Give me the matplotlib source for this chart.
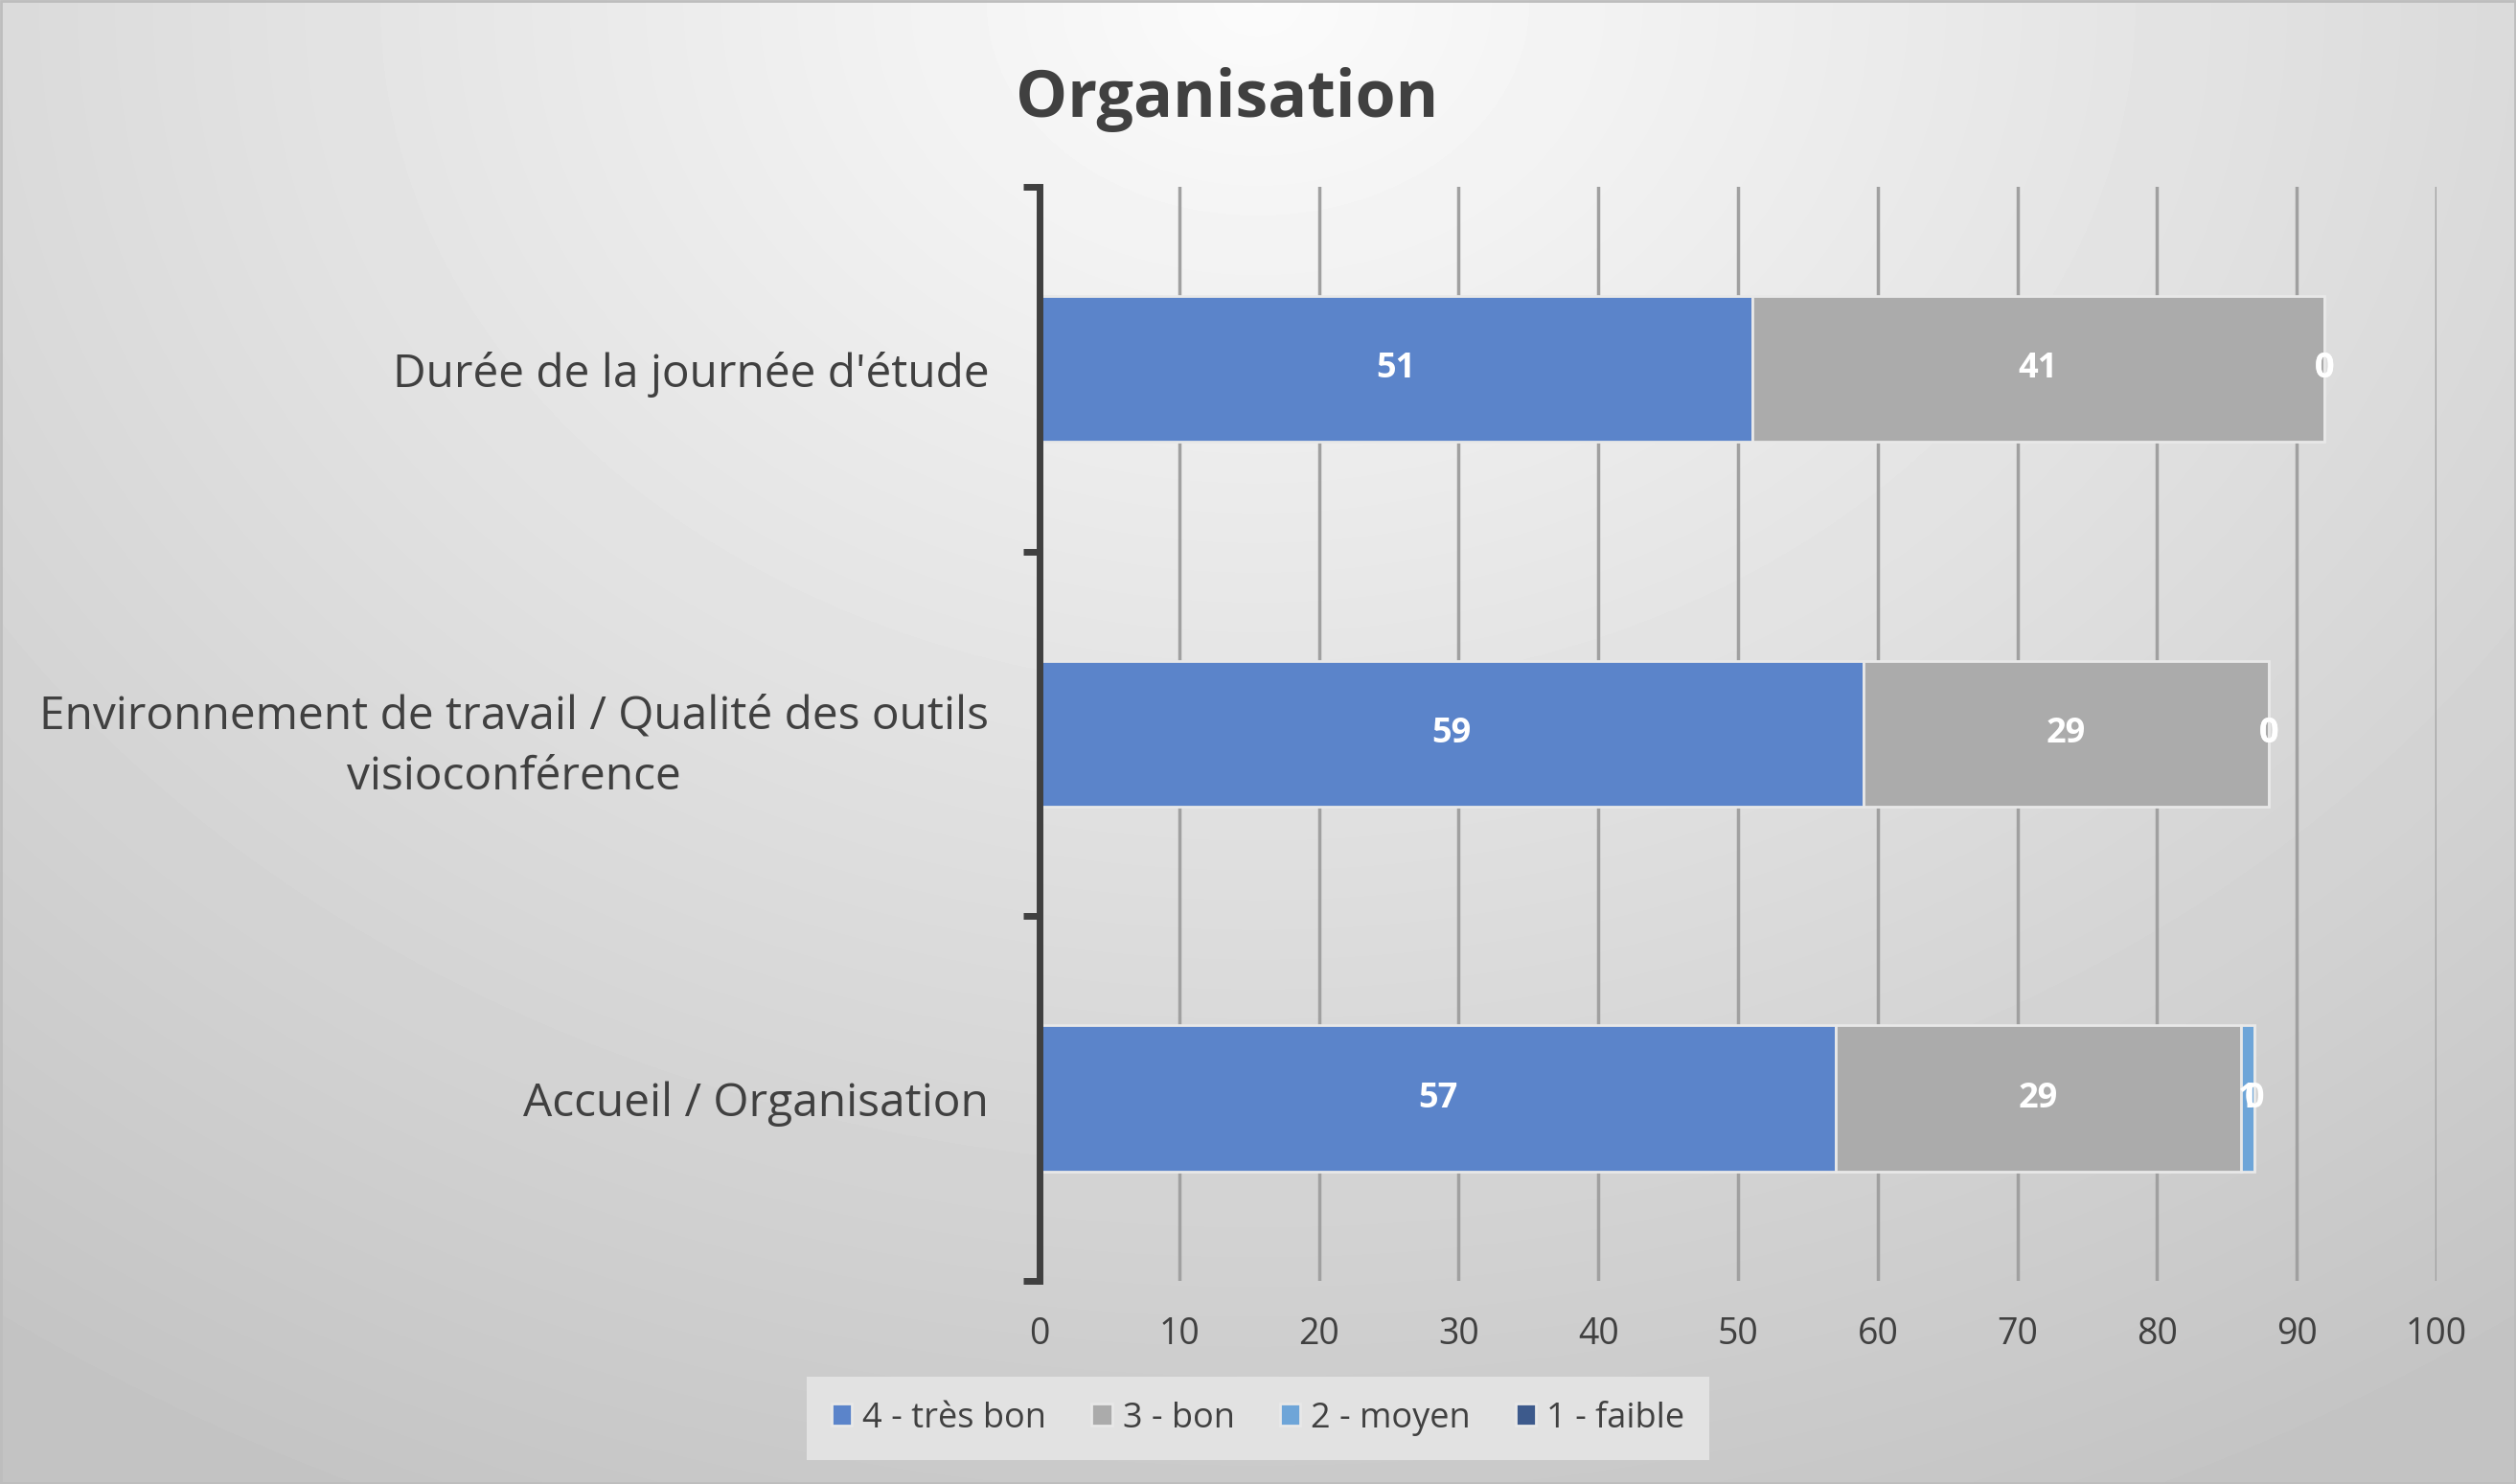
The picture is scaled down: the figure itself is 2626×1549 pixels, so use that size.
import matplotlib.pyplot as plt
import numpy as np

categories = ["Durée de la journée d'étude",
              "Environnement de travail / Qualité des outils\nvisioconférence",
              "Accueil / Organisation"]
series = ['4 - très bon', '3 - bon', '2 - moyen', '1 - faible']
values = {
    '4 - très bon': [51, 59, 57],
    '3 - bon': [41, 29, 29],
    '2 - moyen': [0, 0, 1],
    '1 - faible': [0, 0, 0],
}
colors = ['#5b84ca', '#ababab', '#6ea5d8', '#3d5a8c']

plt.rcParams['font.family'] = ['Open Sans', 'DejaVu Sans']

fig = plt.figure(figsize=(26.26, 15.49), dpi=100)

# radial grey background like the Excel chart area
bg = fig.add_axes([0, 0, 1, 1], zorder=-10)
yy, xx = np.mgrid[0:1:300j, 0:1:500j]
r = np.sqrt(((xx - 0.5) * 1.0) ** 2 + (yy * 0.75) ** 2)
shade = 0.985 - 0.22 * np.clip(r / 0.85, 0, 1)
bg.imshow(shade, cmap='gray', vmin=0, vmax=1, aspect='auto',
          extent=[0, 1, 1, 0], interpolation='bilinear')
bg.set_xlim(0, 1)
bg.set_ylim(1, 0)
bg.axis('off')
bg.add_patch(plt.Rectangle((0.0005, 0.0005), 0.999, 0.999, fill=False,
                           edgecolor='#bdbdbd', lw=2))

ax = fig.add_axes([0.4132, 0.1369, 0.5552, 0.7372])
ax.patch.set_alpha(0)
y = np.arange(len(categories))
left = np.zeros(len(categories))
for name, col in zip(series, colors):
    vals = np.array(values[name], dtype=float)
    ax.barh(y, vals, left=left, height=0.4, color=col, edgecolor='#e8e8e8',
            linewidth=2, label=name, zorder=3)
    for yi, (l, v) in enumerate(zip(left, vals)):
        ax.text(l + v / 2, yi, '%d' % v, ha='center', va='center',
                color='white', fontsize=26, fontweight='bold', zorder=5)
    left += vals

ax.set_xlim(0, 100)
ax.set_ylim(2.5, -0.5)
ax.set_xticks(np.arange(0, 101, 10))
ax.set_yticks(y)
ax.set_yticklabels(categories, fontsize=34.5, color='#404040', linespacing=1.45)
for lbl in ax.get_yticklabels():
    lbl.set_multialignment('center')
ax.set_yticks([-0.5, 0.5, 1.5, 2.5], minor=True)
ax.tick_params(axis='y', which='major', length=0, pad=38)
ax.tick_params(axis='y', which='minor', length=12, width=5, color='#404040')
ax.tick_params(axis='x', length=0, labelsize=27, labelcolor='#404040', pad=27)
ax.grid(axis='x', color='#a0a0a0', linewidth=2.5, zorder=0)
for s in ['top', 'right', 'bottom']:
    ax.spines[s].set_visible(False)
ax.spines['left'].set_linewidth(5)
ax.spines['left'].set_color('#404040')
ax.spines['left'].set_zorder(6)

fig.text(0.4875, 0.933, 'Organisation', ha='center', va='center',
         fontsize=49, fontweight='bold', color='#404040')

leg = fig.legend(loc='center', bbox_to_anchor=(0.5, 0.0442), ncol=4,
                 fontsize=26, frameon=True, fancybox=False,
                 handlelength=0.6, handleheight=0.6, handletextpad=0.3,
                 columnspacing=1.3, borderpad=0.7, labelcolor='#404040')
leg.get_frame().set_facecolor('#e2e2e2')
leg.get_frame().set_edgecolor('none')
leg.get_frame().set_alpha(1)

fig.savefig('out.png', dpi=100)
